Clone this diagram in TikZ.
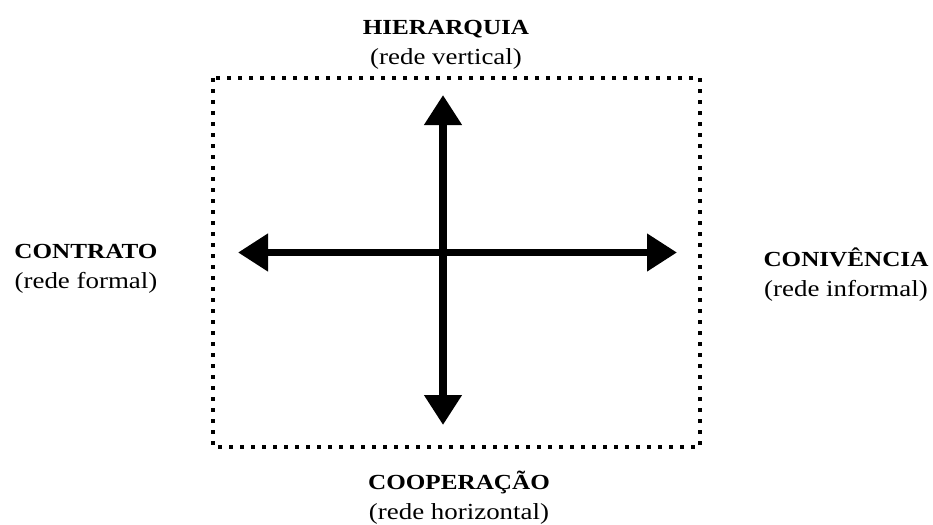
\documentclass[tikz,border=0pt]{standalone}
\usepackage{fontspec}
\setmainfont[FakeStretch=1.17]{Liberation Serif}
\usetikzlibrary{arrows.meta}
\newcommand{\ttl}[1]{{\bfseries\fontsize{21.5}{30}\selectfont #1}}
\begin{document}
\begin{tikzpicture}[x=1pt,y=-1pt,
  lbl/.style={align=center,inner sep=0pt,font=\fontsize{23}{30}\selectfont},
  axis/.style={line width=7.5pt,{Triangle[length=30pt,width=36pt]}-{Triangle[length=30pt,width=36pt]}},
  dotbox/.style={line width=4pt,dash pattern=on 4pt off 7pt}]
\useasboundingbox (0,0) rectangle (933,524);
\fill[white] (0,0) rectangle (933,524);
\draw[dotbox] (213,78) rectangle (700,447);
\coordinate (top) at (443,95);
\coordinate (bot) at (443,425);
\coordinate (lft) at (238,252.5);
\coordinate (rgt) at (677,252.5);
\draw[axis] (bot) -- (top);
\draw[axis] (lft) -- (rgt);
\node[lbl] (hier) at (446,45) {\ttl{HIERARQUIA}\\(rede vertical)};
\node[lbl] (cont) at (86,269) {\ttl{CONTRATO}\\(rede formal)};
\node[lbl] (coni) at (846,275) {\ttl{CONIVÊNCIA}\\(rede informal)};
\node[lbl] (coop) at (459,498) {\ttl{COOPERAÇÃO}\\(rede horizontal)};
\end{tikzpicture}
\end{document}
